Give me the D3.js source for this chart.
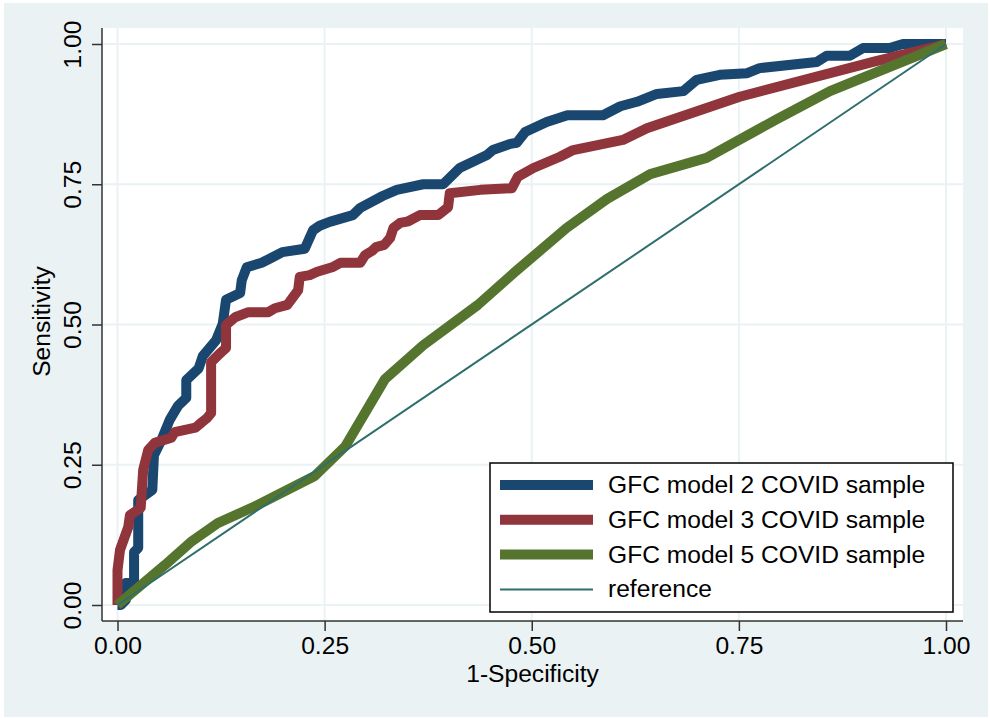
<!DOCTYPE html>
<html>
<head>
<meta charset="utf-8">
<script src="https://cdn.jsdelivr.net/npm/d3@7"></script>
<style>
  body { margin: 0; background: #ffffff; }
  svg text { font-family: "Liberation Sans", Arial, sans-serif; fill: #000000; }
</style>
</head>
<body>
<svg width="990" height="718"></svg>
<script>
// ROC points: [1-specificity, sensitivity]
var model2Points = [
    [0, 0], [0.004, 0], [0.010, 0.009], [0.010, 0.039], [0.020, 0.039], [0.020, 0.094],
    [0.025, 0.102], [0.025, 0.187], [0.042, 0.205], [0.044, 0.267], [0.053, 0.294],
    [0.063, 0.330], [0.073, 0.355], [0.083, 0.369], [0.083, 0.401], [0.098, 0.422],
    [0.103, 0.444], [0.119, 0.472], [0.127, 0.501], [0.131, 0.544], [0.148, 0.556],
    [0.150, 0.579], [0.156, 0.602], [0.174, 0.610], [0.186, 0.619], [0.199, 0.629],
    [0.226, 0.635], [0.236, 0.668], [0.244, 0.676], [0.256, 0.683], [0.284, 0.695],
    [0.293, 0.708], [0.320, 0.729], [0.337, 0.740], [0.369, 0.750], [0.393, 0.750],
    [0.413, 0.779], [0.446, 0.802], [0.453, 0.811], [0.474, 0.822], [0.482, 0.824],
    [0.492, 0.843], [0.518, 0.861], [0.543, 0.873], [0.586, 0.873], [0.607, 0.889],
    [0.627, 0.897], [0.651, 0.911], [0.683, 0.916], [0.699, 0.936], [0.727, 0.945],
    [0.760, 0.948], [0.775, 0.957], [0.844, 0.968], [0.856, 0.979], [0.884, 0.979],
    [0.900, 0.993], [0.932, 0.993], [0.948, 1.0], [1, 1.0]
];

var model3Points = [
    [0, 0], [0, 0.062], [0.003, 0.098], [0.013, 0.139], [0.015, 0.160], [0.028, 0.173],
    [0.031, 0.241], [0.037, 0.276], [0.045, 0.289], [0.065, 0.298], [0.069, 0.308],
    [0.094, 0.316], [0.102, 0.326], [0.108, 0.333], [0.113, 0.342], [0.113, 0.433],
    [0.124, 0.449], [0.131, 0.458], [0.131, 0.499], [0.142, 0.513], [0.158, 0.522],
    [0.182, 0.522], [0.190, 0.529], [0.205, 0.535], [0.218, 0.561], [0.220, 0.585],
    [0.232, 0.588], [0.241, 0.594], [0.259, 0.602], [0.269, 0.610], [0.293, 0.610],
    [0.299, 0.624], [0.307, 0.631], [0.312, 0.638], [0.322, 0.642], [0.329, 0.654],
    [0.333, 0.672], [0.341, 0.681], [0.351, 0.684], [0.365, 0.695], [0.387, 0.695],
    [0.399, 0.709], [0.401, 0.734], [0.438, 0.740], [0.476, 0.743], [0.483, 0.763],
    [0.502, 0.779], [0.534, 0.799], [0.550, 0.811], [0.610, 0.829], [0.639, 0.850],
    [0.751, 0.906], [0.912, 0.968], [1, 1]
];

var model5Points = [
    [0, 0], [0.057, 0.071], [0.090, 0.114], [0.121, 0.146], [0.166, 0.176],
    [0.238, 0.230], [0.275, 0.283], [0.323, 0.403], [0.369, 0.463], [0.435, 0.535],
    [0.480, 0.594], [0.542, 0.672], [0.591, 0.724], [0.643, 0.768], [0.711, 0.797],
    [0.796, 0.866], [0.860, 0.916], [1, 1]
];

var referencePoints = [[0, 0], [1, 1]];

var tickValues = [0, 0.25, 0.5, 0.75, 1];
var seriesNames = ['GFC model 2 COVID sample', 'GFC model 3 COVID sample',
    'GFC model 5 COVID sample', 'reference'];
var seriesColors = ['#1a476f', '#90353b', '#55752f', '#2e6f6c'];
var seriesWidths = [10, 10, 10, 2];

var svg = d3.select('svg');

var fontSize = 24.6;

// plot region box (white area) and the data range inside it
var plot = { l: 102, r: 963, t: 28, b: 621 };

var xScale = d3.scaleLinear().domain([0, 1]).range([117.5, 946]);
var yScale = d3.scaleLinear().domain([0, 1]).range([605, 44]);

// graph region background
svg.append('rect')
    .attr('x', 4).attr('y', 3)
    .attr('width', 984).attr('height', 714)
    .attr('fill', '#eaf2f3');

svg.append('rect')
    .attr('x', plot.l).attr('y', plot.t)
    .attr('width', plot.r - plot.l).attr('height', plot.b - plot.t)
    .attr('fill', '#ffffff');

// grid lines
svg.append('g').selectAll('line.vgrid')
    .data(tickValues)
    .enter().append('line')
    .attr('x1', d => xScale(d)).attr('x2', d => xScale(d))
    .attr('y1', plot.t).attr('y2', plot.b)
    .attr('stroke', '#eaf2f3').attr('stroke-width', 2);

svg.append('g').selectAll('line.hgrid')
    .data(tickValues)
    .enter().append('line')
    .attr('y1', d => yScale(d)).attr('y2', d => yScale(d))
    .attr('x1', plot.l).attr('x2', plot.r)
    .attr('stroke', '#eaf2f3').attr('stroke-width', 2);

// axes
var xAxis = d3.axisBottom(xScale)
    .tickValues(tickValues)
    .tickFormat(d3.format('.2f'))
    .tickSize(10)
    .tickSizeOuter(0);

var xAxisG = svg.append('g')
    .attr('transform', `translate(0, ${plot.b})`)
    .call(xAxis);

var yAxis = d3.axisLeft(yScale)
    .tickValues(tickValues)
    .tickFormat(d3.format('.2f'))
    .tickSize(10)
    .tickSizeOuter(0);

var yAxisG = svg.append('g')
    .attr('transform', `translate(${plot.l}, 0)`)
    .call(yAxis);

// axis lines span the whole plot region
xAxisG.select('.domain').attr('d', `M${plot.l},0H${plot.r}`);
yAxisG.select('.domain').attr('d', `M0,${plot.t}V${plot.b}`);

svg.selectAll('.domain, .tick line')
    .attr('stroke', '#333333')
    .attr('stroke-width', 1.5);

xAxisG.selectAll('.tick text')
    .attr('font-size', fontSize)
    .attr('font-family', '"Liberation Sans", Arial, sans-serif')
    .attr('fill', '#000')
    .attr('dy', null)
    .attr('y', 33);

// y tick labels are rotated
yAxisG.selectAll('.tick text')
    .attr('font-size', fontSize)
    .attr('font-family', '"Liberation Sans", Arial, sans-serif')
    .attr('fill', '#000')
    .attr('x', null).attr('dy', null)
    .attr('text-anchor', 'middle')
    .attr('transform', 'translate(-21.5, 0) rotate(-90)');

// axis titles
svg.append('text')
    .attr('x', (plot.l + plot.r) / 2)
    .attr('y', 682)
    .attr('text-anchor', 'middle')
    .attr('font-size', fontSize)
    .text('1-Specificity');

svg.append('text')
    .attr('text-anchor', 'middle')
    .attr('font-size', fontSize)
    .attr('transform', `translate(50, ${(plot.t + plot.b) / 2 - 3}) rotate(-90)`)
    .text('Sensitivity');

// curves
var line = d3.line()
    .x(d => xScale(d[0]))
    .y(d => yScale(d[1]));

var allSeries = [model2Points, model3Points, model5Points, referencePoints];

svg.append('g').selectAll('path')
    .data(allSeries)
    .enter().append('path')
    .attr('d', line)
    .attr('fill', 'none')
    .attr('stroke', (d, i) => seriesColors[i])
    .attr('stroke-width', (d, i) => seriesWidths[i])
    .attr('stroke-linejoin', 'round');

// legend
var legendG = svg.append('g').attr('transform', 'translate(490, 463)');

legendG.append('rect')
    .attr('width', 463).attr('height', 149)
    .attr('fill', '#ffffff')
    .attr('stroke', '#000000')
    .attr('stroke-width', 1.5);

var rowStep = 34.8;

var legendRows = legendG.selectAll('g.row')
    .data(seriesNames)
    .enter().append('g')
    .attr('class', 'row')
    .attr('transform', (d, i) => `translate(0, ${22 + i * rowStep})`);

legendRows.append('line')
    .attr('x1', 10).attr('x2', 103)
    .attr('stroke', (d, i) => seriesColors[i])
    .attr('stroke-width', (d, i) => seriesWidths[i]);

legendRows.append('text')
    .attr('x', 118)
    .attr('y', 8)
    .attr('font-size', fontSize)
    .text(d => d);
</script>
</body>
</html>
